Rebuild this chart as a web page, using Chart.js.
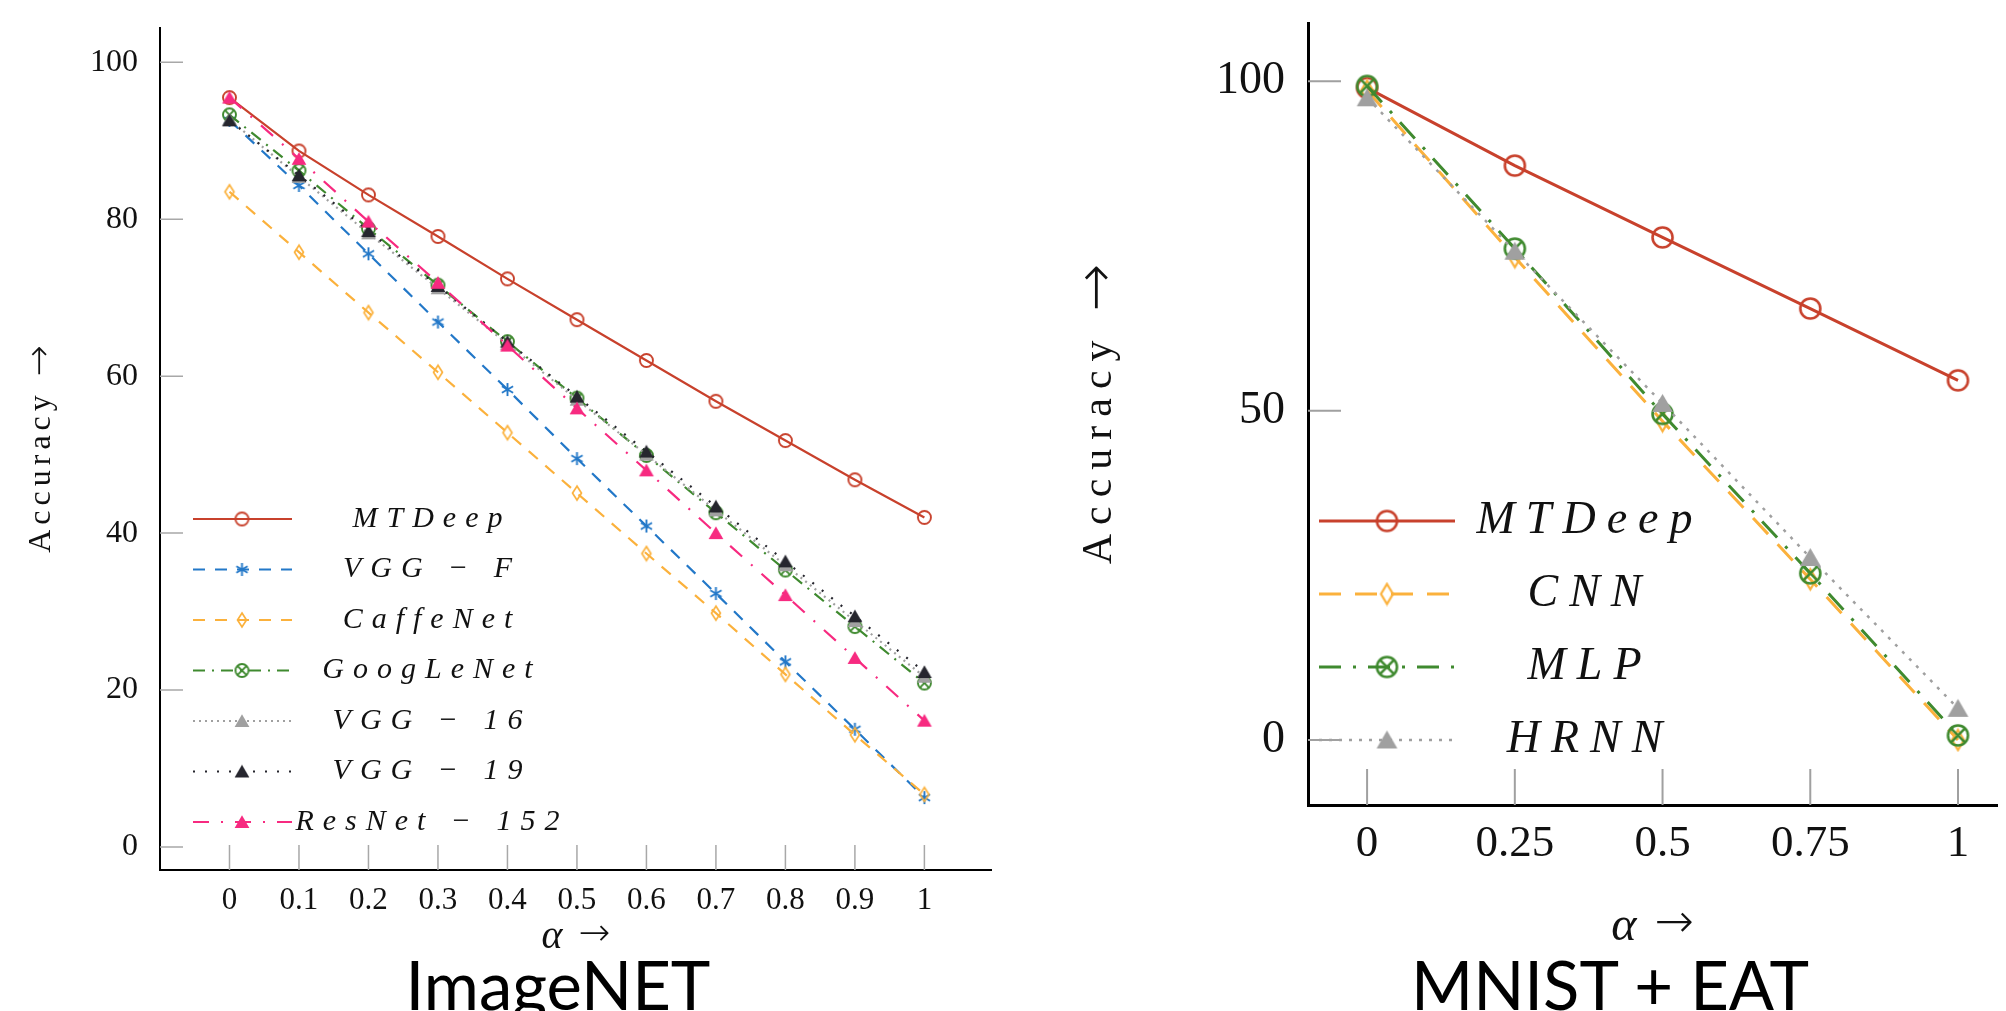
<!DOCTYPE html>
<html>
<head>
<meta charset="utf-8">
<script src="https://cdn.jsdelivr.net/npm/chart.js@4.4.1/dist/chart.umd.min.js"></script>
<style>
html, body { margin: 0; padding: 0; background: #fff; overflow: hidden; }
#wrap { position: relative; width: 2006px; height: 1011px; }
canvas { position: absolute; top: 0; }
#cLeft { left: 0; }
#cRight { left: 1010px; }
.caption { position: absolute; top: 951px; font-family: Lato, sans-serif; font-size: 67px; line-height: 67px; color: #000; white-space: nowrap; transform: translateX(-50%); }
</style>
</head>
<body>
<div id="wrap">
  <canvas id="cLeft" width="1000" height="1011"></canvas>
  <canvas id="cRight" width="996" height="1011"></canvas>
  <div class="caption" style="left:558px">ImageNET</div>
  <div class="caption" style="left:1610px">MNIST + EAT</div>
</div>
<script>
// ---- ImageNET panel data ----
const alphaImageNet = [0, 0.1, 0.2, 0.3, 0.4, 0.5, 0.6, 0.7, 0.8, 0.9, 1];
const alphaImageNetLabels = ['0', '0.1', '0.2', '0.3', '0.4', '0.5', '0.6', '0.7', '0.8', '0.9', '1'];
const accImageNetTicks = [0, 20, 40, 60, 80, 100];
const namesImageNet = ['MTDeep', 'VGG − F', 'CaffeNet', 'GoogLeNet', 'VGG − 16', 'VGG − 19', 'ResNet − 152'];
const mtdeepImageNet = [95.5, 88.7, 83.1, 77.8, 72.4, 67.2, 62.0, 56.8, 51.8, 46.8, 42.0];
const vggFImageNet = [92.6, 84.3, 75.6, 66.9, 58.3, 49.5, 40.9, 32.3, 23.6, 15.0, 6.3];
const caffeNetImageNet = [83.5, 75.8, 68.1, 60.5, 52.8, 45.1, 37.4, 29.8, 22.0, 14.3, 6.7];
const googLeNetImageNet = [93.3, 86.2, 78.8, 71.6, 64.4, 57.2, 49.9, 42.6, 35.3, 28.1, 20.9];
const vgg16ImageNet = [92.7, 85.4, 78.2, 71.2, 64.1, 57.0, 50.0, 42.9, 35.9, 28.8, 21.7];
const vgg19ImageNet = [92.6, 85.6, 78.5, 71.5, 64.4, 57.4, 50.4, 43.4, 36.4, 29.4, 22.3];
const resNetImageNet = [95.5, 87.7, 79.7, 71.9, 63.9, 55.9, 48.0, 40.0, 32.1, 24.1, 16.1];

// ---- MNIST + EAT panel data ----
const alphaMnist = [0, 0.25, 0.5, 0.75, 1];
const alphaMnistLabels = ['0', '0.25', '0.5', '0.75', '1'];
const accMnistTicks = [0, 50, 100];
const namesMnist = ['MTDeep', 'CNN', 'MLP', 'HRNN'];
const mtdeepMnist = [99.0, 87.2, 76.3, 65.5, 54.6];
const cnnMnist = [98.6, 73.3, 48.4, 24.4, 0.0];
const mlpMnist = [99.3, 74.6, 49.5, 25.3, 0.7];
const hrnnMnist = [97.5, 74.2, 51.1, 27.7, 4.8];

// axis titles, drawn in two pieces (word + arrow)
const xTitleParts = ['α', '→'];
const yTitleParts = ['Accuracy', '→'];

const RED = '#c8412c', BLUE = '#2378c8', ORANGE = '#fbb13c', GREEN = '#3f8a2f',
      GRAY = '#a0a0a0', BLACK = '#26262e', PINK = '#f72a80';

// marker images (pgfplots style marks)
function markCanvas(r, lw, draw) {
  const size = Math.ceil(2 * r + lw + 2);
  const c = document.createElement('canvas');
  c.width = size; c.height = size;
  const g = c.getContext('2d');
  g.translate(size / 2, size / 2);
  g.lineWidth = lw;
  draw(g);
  return c;
}
function circleMark(color, r, lw) {
  return markCanvas(r, lw, g => { g.strokeStyle = color; g.beginPath(); g.arc(0, 0, r, 0, Math.PI * 2); g.stroke(); });
}
function otimesMark(color, r, lw) {
  return markCanvas(r, lw, g => {
    const d = r * 0.707;
    g.strokeStyle = color;
    g.beginPath(); g.arc(0, 0, r, 0, Math.PI * 2); g.stroke();
    g.beginPath(); g.moveTo(-d, -d); g.lineTo(d, d); g.moveTo(-d, d); g.lineTo(d, -d); g.stroke();
  });
}
function asteriskMark(color, r, lw) {
  return markCanvas(r, lw, g => {
    g.strokeStyle = color; g.beginPath();
    [90, 30, 150].forEach(a => {
      const t = a * Math.PI / 180;
      g.moveTo(Math.cos(t) * r, -Math.sin(t) * r);
      g.lineTo(-Math.cos(t) * r, Math.sin(t) * r);
    });
    g.stroke();
  });
}
function diamondMark(color, hw, hh, lw) {
  return markCanvas(hh, lw, g => {
    g.strokeStyle = color; g.beginPath();
    g.moveTo(0, -hh); g.lineTo(hw, 0); g.lineTo(0, hh); g.lineTo(-hw, 0); g.closePath(); g.stroke();
  });
}
function triangleMark(color, r) {
  return markCanvas(r, 1, g => {
    g.fillStyle = color; g.beginPath();
    for (let k = 0; k < 3; k++) {
      const t = -Math.PI / 2 + k * 2 * Math.PI / 3;
      g.lineTo(Math.cos(t) * r, Math.sin(t) * r + r * 0.2);
    }
    g.closePath(); g.fill();
  });
}

function series(label, xs, ys, color, width, dash, mark, order) {
  return {
    label: label,
    data: xs.map((x, i) => ({ x: x, y: ys[i] })),
    borderColor: color,
    backgroundColor: color,
    borderWidth: width,
    borderDash: dash,
    pointStyle: mark,
    pointRadius: 6,
    fill: false,
    tension: 0,
    order: order
  };
}

// grey tick marks drawn inside the plot like pgfplots
const innerTicks = {
  id: 'innerTicks',
  beforeDatasetsDraw(chart, args, opts) {
    const { ctx, chartArea: a, scales: { x, y } } = chart;
    ctx.save();
    ctx.strokeStyle = opts.color;
    ctx.lineWidth = opts.width;
    ctx.beginPath();
    x.ticks.forEach(t => {
      const px = x.getPixelForValue(t.value);
      ctx.moveTo(px, a.bottom); ctx.lineTo(px, a.bottom - opts.xLen);
    });
    y.ticks.forEach(t => {
      const py = y.getPixelForValue(t.value);
      ctx.moveTo(a.left, py); ctx.lineTo(a.left + opts.yLen, py);
    });
    ctx.stroke();
    ctx.restore();
  }
};

// axis titles: word and arrow set in different fonts, y one rotated
const axisTitles = {
  id: 'axisTitles',
  afterDraw(chart, args, opts) {
    const { ctx, chartArea: a } = chart;
    [['x', opts.x], ['y', opts.y]].forEach(([axis, t]) => {
      ctx.save();
      ctx.fillStyle = '#111';
      ctx.textBaseline = 'middle';
      ctx.textAlign = 'left';
      const widths = t.parts.map((p, i) => {
        ctx.font = t.fonts[i];
        ctx.letterSpacing = t.spacing[i];
        return ctx.measureText(p).width;
      });
      const total = widths.reduce((s, w) => s + w, 0) + t.gap;
      if (axis === 'x') {
        ctx.translate((a.left + a.right) / 2, t.pos);
      } else {
        ctx.translate(t.pos, (a.top + a.bottom) / 2);
        ctx.rotate(-Math.PI / 2);
      }
      let cx = -total / 2;
      t.parts.forEach((p, i) => {
        ctx.font = t.fonts[i];
        ctx.letterSpacing = t.spacing[i];
        ctx.fillText(p, cx, t.dy[i]);
        cx += widths[i] + t.gap;
      });
      ctx.restore();
    });
  }
};

// legend drawn inside the plot area
const lineLegend = {
  id: 'lineLegend',
  afterDatasetsDraw(chart, args, opts) {
    const ctx = chart.ctx;
    ctx.save();
    chart.data.datasets.forEach((ds, i) => {
      const y = opts.top + i * opts.step;
      ctx.strokeStyle = ds.borderColor;
      ctx.lineWidth = ds.borderWidth;
      ctx.setLineDash(ds.borderDash || []);
      ctx.beginPath(); ctx.moveTo(opts.lineStart, y); ctx.lineTo(opts.lineEnd, y); ctx.stroke();
      ctx.setLineDash([]);
      const m = ds.pointStyle;
      ctx.drawImage(m, opts.markX - m.width / 2, y - m.height / 2);
      ctx.fillStyle = '#111';
      ctx.font = opts.font;
      ctx.letterSpacing = opts.spacing;
      ctx.textAlign = 'center';
      ctx.textBaseline = 'middle';
      ctx.fillText(ds.label, opts.textX, y + opts.textDy);
      ctx.letterSpacing = '0px';
    });
    ctx.restore();
  }
};

function axes(o) {
  return {
    x: {
      type: 'linear', min: o.xMin, max: o.xMax, bounds: 'data',
      afterBuildTicks: s => { s.ticks = o.xTicks.map(v => ({ value: v })); },
      afterFit: s => { s.height = o.xHeight; s.paddingLeft = 0; s.paddingRight = 0; s.paddingTop = 0; s.paddingBottom = 0; },
      grid: { display: false, drawTicks: false },
      border: { display: true, color: '#000', width: o.axisWidth },
      ticks: {
        autoSkip: false, maxRotation: 0, padding: o.xPad, color: '#111',
        font: { family: 'Liberation Serif', size: o.tickSize },
        callback: (v, i) => o.xLabels[i]
      },
      title: { display: false }
    },
    y: {
      type: 'linear', min: o.yMin, max: o.yMax, bounds: 'data',
      afterBuildTicks: s => { s.ticks = o.yTicks.map(v => ({ value: v })); },
      afterFit: s => { s.width = o.yWidth; s.paddingLeft = 0; s.paddingRight = 0; s.paddingTop = 0; s.paddingBottom = 0; },
      grid: { display: false, drawTicks: false },
      border: { display: true, color: '#000', width: o.axisWidth },
      ticks: {
        autoSkip: false, padding: o.yPad, color: '#111',
        font: { family: 'Liberation Serif', size: o.tickSize + 1 },
        callback: v => String(v)
      },
      title: { display: false }
    }
  };
}

// ---- left chart: ImageNET ----
const dsImageNet = [
  series(namesImageNet[0], alphaImageNet, mtdeepImageNet, RED, 2.2, [], circleMark(RED, 6.5, 1.9), 7),
  series(namesImageNet[1], alphaImageNet, vggFImageNet, BLUE, 2.2, [12, 10], asteriskMark(BLUE, 6.5, 1.9), 6),
  series(namesImageNet[2], alphaImageNet, caffeNetImageNet, ORANGE, 2.2, [12, 10], diamondMark(ORANGE, 4.5, 7, 1.7), 5),
  series(namesImageNet[3], alphaImageNet, googLeNetImageNet, GREEN, 2.2, [12, 7, 2, 7], otimesMark(GREEN, 6.5, 1.9), 4),
  series(namesImageNet[4], alphaImageNet, vgg16ImageNet, GRAY, 2.2, [2, 4], triangleMark(GRAY, 8.5), 3),
  series(namesImageNet[5], alphaImageNet, vgg19ImageNet, BLACK, 2.2, [2, 10], triangleMark(BLACK, 8.5), 2),
  series(namesImageNet[6], alphaImageNet, resNetImageNet, PINK, 2.2, [16, 12, 2, 12], triangleMark(PINK, 8.5), 1)
];

new Chart(document.getElementById('cLeft'), {
  type: 'line',
  data: { datasets: dsImageNet },
  options: {
    responsive: false, animation: false, events: [],
    layout: { padding: { top: 28, right: 2, left: 0, bottom: 0 } },
    scales: axes({
      xMin: -0.1, xMax: 1.097, xTicks: alphaImageNet, xLabels: alphaImageNetLabels,
      yMin: -2.93, yMax: 104.37, yTicks: accImageNetTicks,
      xHeight: 141, yWidth: 160, axisWidth: 2,
      tickSize: 31, xPad: 12, yPad: 22
    }),
    plugins: {
      legend: { display: false },
      tooltip: { enabled: false },
      innerTicks: { color: '#a8a8a8', width: 1.5, xLen: 25, yLen: 23 },
      axisTitles: {
        x: { parts: xTitleParts, pos: 937, gap: 16, dy: [0, -2],
             fonts: ['italic 40px "Liberation Serif"', '200 38px "DejaVu Sans"'], spacing: ['0px', '0px'] },
        y: { parts: yTitleParts, pos: 42, gap: 14, dy: [0, -1],
             fonts: ['32px "Liberation Serif"', '200 37px "DejaVu Sans"'], spacing: ['5px', '0px'] }
      },
      lineLegend: { top: 519, step: 50.5, lineStart: 193, lineEnd: 292, markX: 242, textX: 432, textDy: 0,
                    font: 'italic 30px "Liberation Serif"', spacing: '9px' }
    }
  },
  plugins: [innerTicks, lineLegend, axisTitles]
});

// ---- right chart: MNIST + EAT ----
const dsMnist = [
  series(namesMnist[0], alphaMnist, mtdeepMnist, RED, 3, [], circleMark(RED, 10, 2.6), 4),
  series(namesMnist[1], alphaMnist, cnnMnist, ORANGE, 3, [22, 14], diamondMark(ORANGE, 6, 10, 2.2), 3),
  series(namesMnist[2], alphaMnist, mlpMnist, GREEN, 3, [22, 12, 3, 12], otimesMark(GREEN, 10, 2.6), 2),
  series(namesMnist[3], alphaMnist, hrnnMnist, GRAY, 2.5, [3, 7], triangleMark(GRAY, 12), 1)
];

new Chart(document.getElementById('cRight'), {
  type: 'line',
  data: { datasets: dsMnist },
  options: {
    responsive: false, animation: false, events: [],
    layout: { padding: { top: 23, right: 0, left: 0, bottom: 0 } },
    scales: axes({
      xMin: -0.1, xMax: 1.066, xTicks: alphaMnist, xLabels: alphaMnistLabels,
      yMin: -9.87, yMax: 108.85, yTicks: accMnistTicks,
      xHeight: 206, yWidth: 298, axisWidth: 3,
      tickSize: 45, xPad: 12, yPad: 23
    }),
    plugins: {
      legend: { display: false },
      tooltip: { enabled: false },
      innerTicks: { color: '#a0a0a0', width: 2, xLen: 36, yLen: 33 },
      axisTitles: {
        x: { parts: xTitleParts, pos: 927, gap: 18, dy: [0, -2],
             fonts: ['italic 48px "Liberation Serif"', '200 47px "DejaVu Sans"'], spacing: ['0px', '0px'] },
        y: { parts: yTitleParts, pos: 90, gap: 20, dy: [0, -1],
             fonts: ['42px "Liberation Serif"', '200 57px "DejaVu Sans"'], spacing: ['9px', '0px'] }
      },
      lineLegend: { top: 521, step: 73, lineStart: 309, lineEnd: 445, markX: 377, textX: 580, textDy: 0,
                    font: 'italic 46px "Liberation Serif"', spacing: '11px' }
    }
  },
  plugins: [innerTicks, lineLegend, axisTitles]
});
</script>
</body>
</html>
